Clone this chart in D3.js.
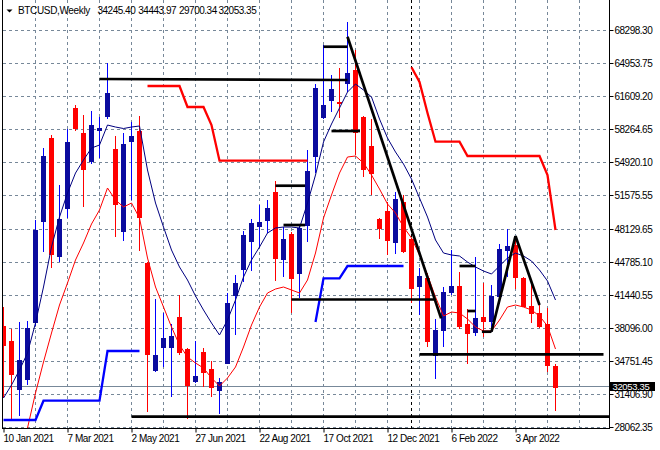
<!DOCTYPE html>
<html><head><meta charset="utf-8">
<script src="https://cdn.jsdelivr.net/npm/d3@7"></script>
<style>body{margin:0;background:#fff}svg{display:block}text{font-family:"Liberation Sans",Arial,sans-serif}</style>
</head><body>
<svg id="c" width="660" height="450"></svg>
<script>
// ---- data (weekly candles, index 0 = week of 10 Jan 2021) ----
const symbolTitle = "BTCUSD,Weekly";
const lastBar = ["34245.40","34443.97","29700.34","32053.35"];
const dateTicks = ["10 Jan 2021","7 Mar 2021","2 May 2021","27 Jun 2021","22 Aug 2021","17 Oct 2021","12 Dec 2021","6 Feb 2022","3 Apr 2022"];
const dateTickIndex = [0,8,16,24,32,40,48,56,64];
const priceTicks = [68298.30,64953.75,61609.20,58264.65,54920.10,51575.55,48129.65,44785.10,41440.55,38096.00,34751.45,31406.90,28062.35];

const open = [38283,36761,31787,32731,38557,48869,57395,45256,50128,60380,
  57842,54899,58004,59527,56279,47854,56989,58076,44708,33746,
  36121,36020,39166,35949,32629,35674,33888,31686,34497,41328,
  43967,46779,48362,48941,51854,44911,47621,43561,48463,55406,
  59365,61151,61019,62917,64267,59527,56553,49144,49956,46677,
  50899,47114,42272,43125,35238,37704,41663,42343,38456,37542,
  39166,38719,41196,45926,46505,43185,40343,39633,38486,34245.40];
const high = [40212,37949,38719,38790,49042,56380,57670,52595,58248,60715,
  59700,60106,59527,64947,57568,57873,59019,59598,44750,41054,
  39572,38456,41430,36000,36791,36020,34761,32975,41663,43460,
  47956,49144,50565,51072,53001,48362,47824,48535,56147,62846,
  66805,63760,64440,69109,66297,59560,59294,49200,50899,51914,
  51580,47200,44170,43632,38994,42272,45997,43794,39978,45317,
  42617,42445,46576,48159,47347,43250,42678,40587,40080,34443.97];
const low = [30975,28814,29148,32295,38283,45824,44140,44809,49215,58076,
  50331,54726,55335,59263,47347,46941,51072,45926,29584,33644,
  34152,31046,35340,28844,32498,32122,31046,29321,34426,37370,
  42779,43896,46170,47692,42851,43287,39572,41125,46839,53782,
  59294,60034,59365,62064,55640,53437,51580,47083,45490,45591,
  45662,40587,39400,36182,32904,36182,41430,37948,34426,37298,
  37197,37704,40516,43287,42039,40212,38557,38080,33644,29700.34];
const close = [36253,33310,34832,38050,48027,55538,45561,49113,56959,58279,
  54046,58654,58350,61963,50636,56756,57568,49275,35370,35340,
  37095,37268,35512,32223,33208,33543,31960,32569,40648,42678,
  47489,48707,48869,50230,45053,47083,43023,48200,54016,62410,
  60715,62339,60816,63993,57842,54188,53681,48098,46941,51143,
  45824,42008,43358,36588,37877,41704,42343,38212,37441,39065,
  38618,41328,46099,46403,43125,40242,39501,38212,34253,32053.35];

// thin navy moving average
const maFast = [30975,32295,33817,35542,38587,42242,46312,49346,51782,53812,
  55132,56350,56654,58684,58481,58329,58481,58583,54117,50767,
  48331,45997,44271,42952,41328,39907,38587,37369,38892,40922,
  43256,44982,46301,47722,48230,48331,48331,48230,50767,53609,
  56959,58786,60410,62034,62846,62237,61526,59293,57365,55944,
  54726,53203,51275,49346,47012,45692,45489,45388,44779,44271,
  43865,43561,44373,45185,45692,45388,44880,43967,42850,40922];
// thin red moving average
const maSlow = [null,null,null,27930,31483,34629,37572,40415,42648,44982,
  46708,48636,50057,52290,51072,50362,50767,49245,45185,42242,
  40212,38182,36355,35137,34528,34020,33005,32193,33005,34122,
  36152,38385,40212,41633,42039,42242,41937,41633,42952,45692,
  49245,51580,53812,55437,55538,54828,53610,52189,50666,49753,
  48332,47215,45490,43460,41227,39298,39704,39603,38994,38182,
  37776,37776,38892,40212,40415,40212,39907,39298,38283,35949];
// thick red upper step line
const upperStop = [null,null,null,null,null,null,null,null,null,null,
  null,null,null,null,null,null,null,null,62643,62643,
  62643,62643,62643,60512,60512,60512,58685,55061,55061,55061,
  55061,55061,55061,55061,55061,55061,55061,55061,55061,null,
  null,null,null,null,null,null,null,null,null,null,
  null,64541,63049,59903,56989,56989,56989,56989,55538,55538,
  55538,55538,55538,55538,55538,55538,55538,55538,53610,48027];
// thick blue lower step line
const lowerStop = [28742,28742,28742,28742,28742,30701,30701,30701,30701,30701,
  30701,30701,30701,35745,35745,35745,35745,35745,null,null,
  null,null,null,null,null,null,null,null,null,null,
  null,null,null,null,null,null,null,null,null,38689,
  43125,43125,43125,44373,44373,44373,44373,44373,44373,44373,
  44373,null,null,null,null,null,null,null,null,null,
  null,null,null,null,null,null,null,null,null,null];

// drawn objects: [startIndex, startPrice, endIndex, endPrice]
const levelLines = [
  [12,63353,43,63252],[40,66632,43,66632],[41,58076,44.56,58076],
  [34,52523,37.7,52523],[35,48535,37.7,48535],[36,40973,54,40973],
  [52,35411,75,35411],[16,29077,76,29077],[57,44373,59,44373],
  [58,39805,59,39805],[59.8,37704,61,37704]];
const trendLines = [[43,67647,54.7,39065],[61,37704,64,47418],[64,47418,67,40415]];
const yearSeparator = [51];
const lastPrice = 32053.35;

// ---- drawing ----
const W = 660, H = 450;
const plotR = 609, plotB = 428;
const x = d3.scaleLinear().domain([0, 69]).range([3.5, 555.5]);
const y = d3.scaleLinear().domain([28062.35, 68298.30]).range([426.7, 30.3]);
const svg = d3.select("#c");
svg.append("rect").attr("width", W).attr("height", H).attr("fill", "#fff");
svg.append("defs").append("clipPath").attr("id", "clip")
  .append("rect").attr("x", 3).attr("y", 0).attr("width", plotR - 3).attr("height", plotB);

const gridColor = "#778899";
const gGrid = svg.append("g").attr("shape-rendering", "crispEdges");
gGrid.selectAll("line.h").data(priceTicks).join("line").attr("class", "h")
  .attr("x1", 3).attr("x2", plotR).attr("y1", d => Math.round(y(d)) + 0.5).attr("y2", d => Math.round(y(d)) + 0.5)
  .attr("stroke", gridColor).attr("stroke-dasharray", "3,3");
gGrid.selectAll("line.v").data(d3.range(4, 73, 4)).join("line").attr("class", "v")
  .attr("x1", d => Math.floor(x(d)) + 0.5).attr("x2", d => Math.floor(x(d)) + 0.5).attr("y1", 0).attr("y2", plotB)
  .attr("stroke", gridColor).attr("stroke-dasharray", "3,3");

// year separator
svg.append("g").attr("shape-rendering", "crispEdges").selectAll("line").data(yearSeparator).join("line")
  .attr("x1", d => Math.floor(x(d)) + 0.5).attr("x2", d => Math.floor(x(d)) + 0.5).attr("y1", 0).attr("y2", plotB)
  .attr("stroke", "#000").attr("stroke-dasharray", "3,3");

// current price line
const lpY = Math.round(y(lastPrice)) - 0.5;
svg.append("line").attr("x1", 3).attr("x2", plotR).attr("y1", lpY).attr("y2", lpY)
  .attr("stroke", gridColor).attr("shape-rendering", "crispEdges");

const g = svg.append("g").attr("clip-path", "url(#clip)");
const idx = d3.range(open.length);
const bull = i => close[i] >= open[i];
g.append("g").attr("shape-rendering", "crispEdges").selectAll("line").data(idx).join("line")
  .attr("x1", i => x(i)).attr("x2", i => x(i)).attr("y1", i => Math.round(y(high[i]))).attr("y2", i => Math.round(y(low[i])))
  .attr("stroke", i => bull(i) ? "#0000ff" : "#ff0000");
g.append("g").attr("shape-rendering", "crispEdges").selectAll("rect").data(idx).join("rect")
  .attr("x", i => x(i) - 2.5).attr("width", 5)
  .attr("y", i => Math.round(y(Math.max(open[i], close[i]))))
  .attr("height", i => Math.max(1, Math.round(Math.abs(y(open[i]) - y(close[i])))))
  .attr("fill", i => bull(i) ? "#0b0b9e" : "#ff0000");

const line = d3.line().defined(d => d != null).x((d, i) => x(i)).y(d => y(d));
g.append("path").attr("d", line(maSlow)).attr("fill", "none").attr("stroke", "#ff0000").attr("stroke-width", 1);
g.append("path").attr("d", line(maFast)).attr("fill", "none").attr("stroke", "#000080").attr("stroke-width", 1);
g.append("path").attr("d", line(upperStop)).attr("fill", "none").attr("stroke", "#ff0000").attr("stroke-width", 2.3);
g.append("path").attr("d", line(lowerStop)).attr("fill", "none").attr("stroke", "#0000ff").attr("stroke-width", 2.3);

g.append("g").selectAll("line").data(levelLines.concat(trendLines)).join("line")
  .attr("x1", d => x(d[0])).attr("y1", d => y(d[1])).attr("x2", d => x(d[2])).attr("y2", d => y(d[3]))
  .attr("stroke", "#000").attr("stroke-width", 2.7);

// frame
const gF = svg.append("g").attr("shape-rendering", "crispEdges");
gF.append("line").attr("x1", 2.5).attr("x2", 2.5).attr("y1", 0).attr("y2", plotB + 0.5).attr("stroke", "#000");
gF.append("line").attr("x1", plotR + 0.5).attr("x2", plotR + 0.5).attr("y1", 0).attr("y2", plotB + 0.5).attr("stroke", "#000");
gF.append("line").attr("x1", 2.5).attr("x2", plotR + 0.5).attr("y1", plotB + 0.5).attr("y2", plotB + 0.5).attr("stroke", "#000");

// axes
const fmt = d3.format(".2f");
const yAxis = svg.append("g").attr("transform", `translate(${plotR + 0.5},0)`)
  .call(d3.axisRight(y).tickValues(priceTicks).tickFormat(fmt).tickSize(4).tickSizeOuter(0));
yAxis.select(".domain").remove();
yAxis.selectAll(".tick").attr("transform", d => `translate(0,${Math.round(y(d)) + 0.5})`);
yAxis.selectAll("text").attr("x", 5).attr("dy", "0.35em").attr("font-size", 10).attr("letter-spacing", -0.5)
  .attr("fill", "#000").style("font-family", '"Liberation Sans",Arial,sans-serif');

const xAxis = svg.append("g").attr("transform", `translate(0,${plotB + 0.5})`)
  .call(d3.axisBottom(x).tickValues(dateTickIndex).tickFormat((d, i) => dateTicks[i]).tickSize(4).tickSizeOuter(0));
xAxis.select(".domain").remove();
xAxis.selectAll("text").attr("text-anchor", "start").attr("x", -0.5).attr("y", 13).attr("dy", 0)
  .attr("font-size", 10).attr("letter-spacing", -0.45).attr("fill", "#000")
  .style("font-family", '"Liberation Sans",Arial,sans-serif');

// last price label (drawn over the axis label it partly covers, as in the reference)
const lpBox = svg.append("g");
lpBox.append("rect").attr("x", 610).attr("y", lpY - 4.5).attr("width", 45).attr("height", 9).attr("fill", "#000");
lpBox.append("text").attr("x", 612.5).attr("y", lpY).attr("dy", "0.35em").attr("font-size", 9.5)
  .attr("letter-spacing", -0.35).attr("fill", "#fff").text(fmt(lastPrice));

// title
svg.append("path").attr("d", "M6.5,9.5 L12.5,9.5 L9.5,12.5 Z").attr("fill", "#000");
svg.append("text").attr("x", 18).attr("y", 14).attr("font-size", 10).attr("letter-spacing", -0.35).text(symbolTitle);
const titleX = [97.5, 138.3, 179, 218.5];
svg.selectAll("text.ohlc").data(lastBar).join("text").attr("class", "ohlc")
  .attr("x", (d, i) => titleX[i]).attr("y", 14).attr("font-size", 10).attr("letter-spacing", -0.5).text(d => d);
</script>
</body></html>
